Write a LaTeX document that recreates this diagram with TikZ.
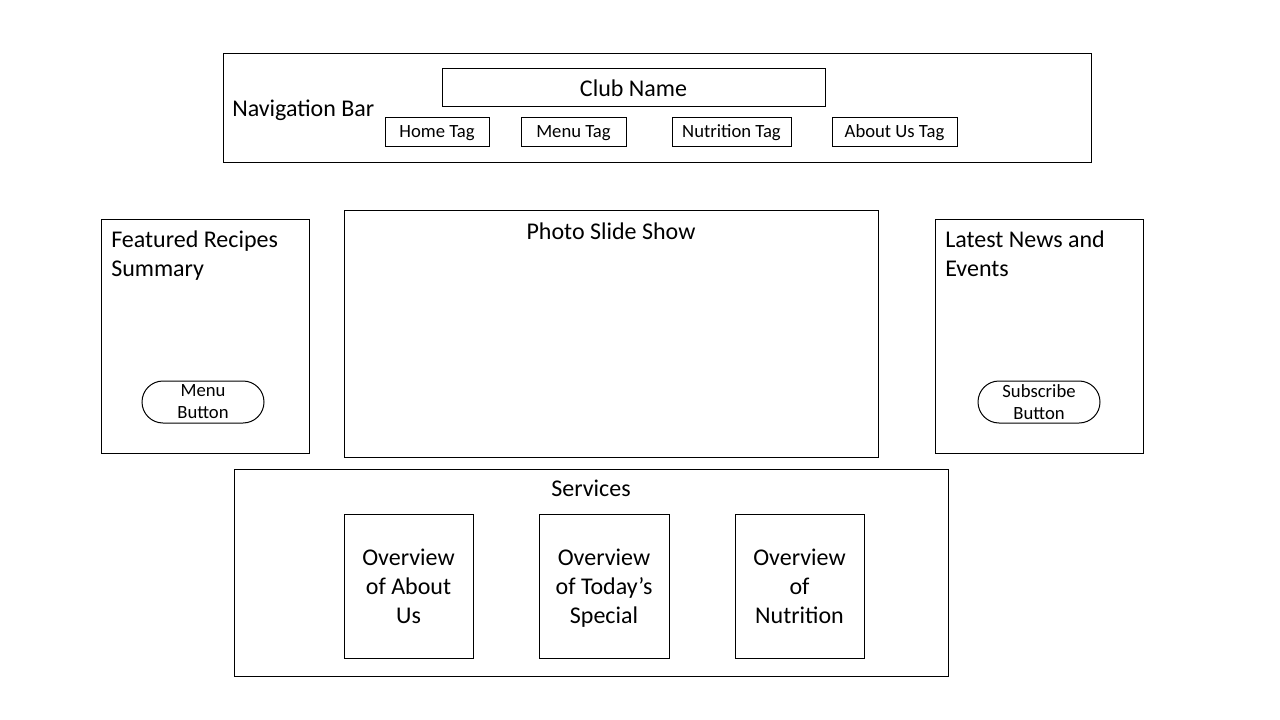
\documentclass[tikz,border=0pt]{standalone}
\usepackage{fontspec}
\setmainfont{Carlito}
\begin{document}
\begin{tikzpicture}[x=0.75pt,y=-0.75pt,
  box/.style={draw=black,line width=0.75pt},
  big/.style={font=\fontsize{18}{21.75}\selectfont,inner sep=0pt},
  small/.style={font=\fontsize{14}{16.5}\selectfont,inner sep=0pt},
  tagbox/.style={draw=black,line width=0.75pt,font=\fontsize{14}{16.5}\selectfont,inner sep=0pt,text height=9.5pt,text depth=2.5pt},
  btn/.style={draw=black,line width=0.75pt,rounded corners=21*0.75pt,font=\fontsize{14}{16.5}\selectfont,align=center,inner sep=0pt}
]
\path[fill=white,use as bounding box] (0,0) rectangle (1280,720);
% navigation bar
\node[box,minimum width=868*0.75pt,minimum height=109*0.75pt,inner sep=0pt] (nav) at (657,108.5) {};
\node[big,anchor=west] (navt) at (232,110.5) {Navigation Bar};
\node[box,minimum width=383*0.75pt,minimum height=38*0.75pt,font=\fontsize{18}{21.75}\selectfont,inner sep=0pt] (club) at (633.5,88) {Club Name};
\node[tagbox,minimum width=104*0.75pt,minimum height=29*0.75pt] (home) at (437,132.5) {Home Tag};
\node[tagbox,minimum width=105*0.75pt,minimum height=29*0.75pt] (menu) at (573.5,132.5) {Menu Tag};
\node[tagbox,minimum width=119*0.75pt,minimum height=29*0.75pt] (nutr) at (731.5,132.5) {Nutrition Tag};
\node[tagbox,minimum width=125*0.75pt,minimum height=29*0.75pt] (about) at (894.5,132.5) {About Us Tag};
% featured recipes
\node[box,minimum width=208*0.75pt,minimum height=233*0.75pt,inner sep=0pt] (feat) at (205,336.5) {};
\node[big,anchor=north west,align=left] (featt) at (111,231) {Featured Recipes\\Summary};
\node[btn,minimum width=122*0.75pt,minimum height=42*0.75pt] (menubtn) at (203,402) {Menu\\Button};
% photo slide show
\node[box,minimum width=534*0.75pt,minimum height=246*0.75pt,inner sep=0pt] (photo) at (611,334) {};
\node[big] (photot) at (611,231) {Photo Slide Show};
% latest news
\node[box,minimum width=208*0.75pt,minimum height=233*0.75pt,inner sep=0pt] (news) at (1039,336.5) {};
\node[big,anchor=north west,align=left] (newst) at (945,231) {Latest News and\\Events};
\node[btn,minimum width=122*0.75pt,minimum height=42*0.75pt] (subbtn) at (1039,402) {Subscribe\\Button};
% services
\node[box,minimum width=714*0.75pt,minimum height=207*0.75pt,inner sep=0pt] (serv) at (591,572.5) {};
\node[big] (servt) at (591,488) {Services};
\node[box,big,align=center,minimum width=129*0.75pt,minimum height=144*0.75pt] (ov1) at (408.5,586) {Overview\\of About\\Us};
\node[box,big,align=center,minimum width=130*0.75pt,minimum height=144*0.75pt,text depth=0pt] (ov2) at (604,586) {Overview\\of Today’s\\Special};
\node[box,big,align=center,minimum width=129*0.75pt,minimum height=144*0.75pt] (ov3) at (799.5,586) {Overview\\of\\Nutrition};
\end{tikzpicture}
\end{document}
